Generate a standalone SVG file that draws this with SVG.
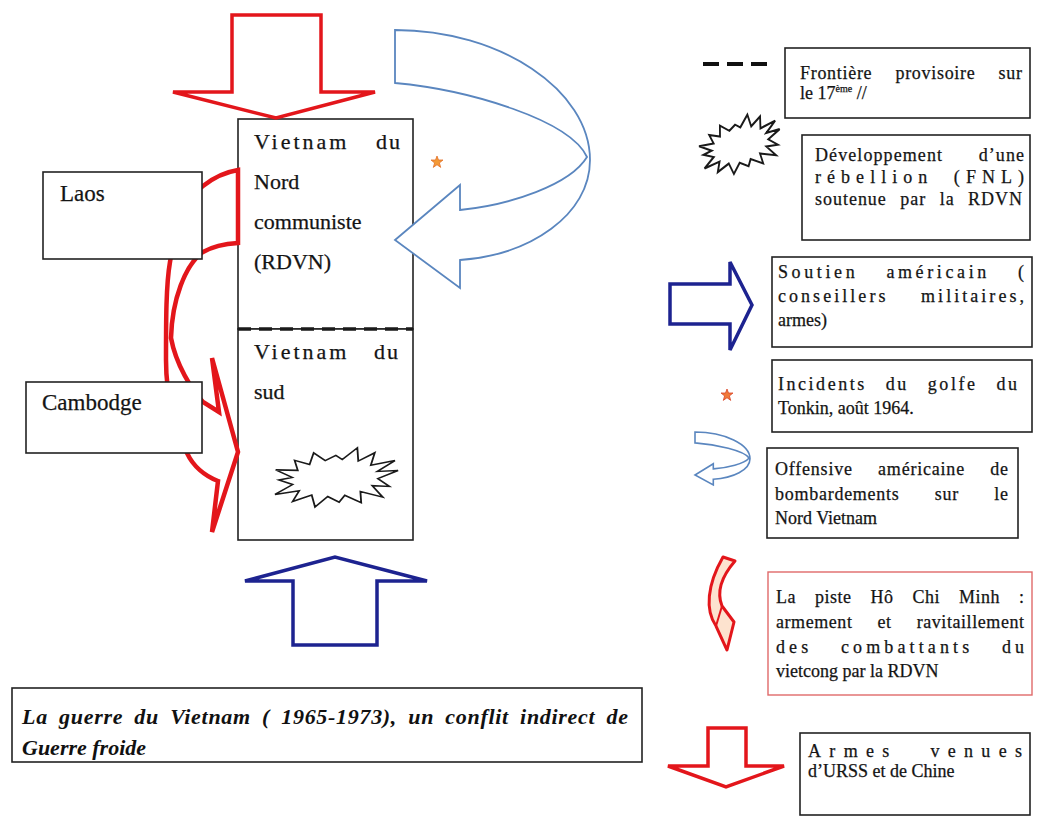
<svg xmlns="http://www.w3.org/2000/svg" width="1040" height="816" viewBox="0 0 1040 816">
<style>
.box{fill:#fff;stroke:#222;stroke-width:1.6}
.t{font-family:"Liberation Serif","Times New Roman",serif;font-size:18px;fill:#141414;stroke:#141414;stroke-width:0.25}
.tb{font-family:"Liberation Serif","Times New Roman",serif;font-size:22px;fill:#141414;stroke:#141414;stroke-width:0.25}
.tc{font-family:"Liberation Serif","Times New Roman",serif;font-size:23px;fill:#141414;stroke:#141414;stroke-width:0.25}
.title{font-family:"Liberation Serif","Times New Roman",serif;font-size:22px;font-weight:bold;font-style:italic;fill:#111}
.red{fill:#fff;stroke:#e3161b;stroke-width:3.5;stroke-linejoin:miter}
.navy{fill:#fff;stroke:#1d2390;stroke-width:3.5;stroke-linejoin:miter}
.sky{fill:#fff;stroke:#5a86bf;stroke-width:1.8;stroke-linejoin:miter}
.boom{fill:#fff;stroke:#1a1a1a;stroke-width:1.8;stroke-linejoin:miter}
.star{fill:#f39a36;stroke:#e2702a;stroke-width:0.8}
</style>
<defs>
<polygon id="explosion" points="52,-3 35,3.5 44,12 30,10 38,22 20,15 20,26 7,17.6 2,24 -7,17.6 -18,27 -20,15 -36,20 -30,10 -50,12 -35,3.5 -46,-2 -35,-3.5 -48,-12 -30,-10 -32,-20 -20,-15 -16,-26 -7,-17.6 2,-22 7,-17.6 20,-28 20,-15 34,-22 30,-10 50,-13 35,-3.5"/>
<polygon id="starshape" points="0,-6 1.5,-2 6,-2 2.4,0.9 3.7,5.4 0,2.7 -3.7,5.4 -2.4,0.9 -6,-2 -1.5,-2"/>
</defs>

<g id="vietnam-nord">
<rect class="box" x="238" y="119" width="175" height="210"/>
<text class="tb" x="254" y="149" letter-spacing="3">Vietnam</text>
<text class="tb" x="402" y="149" text-anchor="end" letter-spacing="2">du</text>
<text class="tb" x="254" y="189">Nord</text>
<text class="tb" x="254" y="229">communiste</text>
<text class="tb" x="254" y="269">(RDVN)</text>
</g>

<g id="vietnam-sud">
<rect class="box" x="238" y="329" width="175" height="211"/>
<text class="tb" x="254" y="359" letter-spacing="3">Vietnam</text>
<text class="tb" x="400" y="359" text-anchor="end" letter-spacing="2">du</text>
<text class="tb" x="254" y="399">sud</text>
<use href="#explosion" class="boom" transform="translate(335,478) rotate(-4) scale(1.22,1.02)" style="stroke-width:1.5"/>
</g>

<g id="connectors">
<line x1="238" y1="329" x2="413" y2="329" stroke="#1a1a1a" stroke-width="3.5" stroke-dasharray="13 8"/>
<path id="arrow-urss" class="red" d="M232,15 L321,15 L321,92 L375,92 L276,118 L173,92 L232,92 Z"/>
<path id="arrow-bombardements" class="sky" d="M395,30 C500,30 590,90 590,160 C590,215 530,255 460,260 L460,288 L395,240 L460,185 L460,210 C510,205 570,185 587,157 C570,120 470,90 395,83 Z"/>
<path id="piste-ho-chi-minh" class="red" style="stroke-width:4.5" d="M238,170 L238,243 C222,244 210,248 203,252 C185,265 172,300 171,338 C176,365 192,390 203,402 L219,412 L212,358 L238,452 L212,532 L218,481 C205,476 193,466 187,453 C176,428 166,400 166,360 C166,320 166,285 170,262 C176,225 188,195 203,186 C213,178 226,172 238,170 Z"/>
<path id="arrow-soutien" class="navy" d="M293,645 L377,645 L377,581 L427,581 L335,557 L245,581 L293,581 Z"/>
<use href="#starshape" class="star" transform="translate(437,162)"/>
</g>

<g id="laos">
<rect class="box" x="43" y="172" width="159" height="87"/>
<text class="tc" x="60" y="201">Laos</text>
</g>

<g id="cambodge">
<rect class="box" x="26" y="382" width="176" height="71"/>
<text class="tc" x="42" y="410">Cambodge</text>
</g>

<g id="titre">
<rect class="box" x="12" y="688" width="630" height="74"/>
<text class="title" x="22" y="724" word-spacing="5" textLength="606" lengthAdjust="spacing">La guerre du Vietnam ( 1965-1973), un conflit indirect de</text>
<text class="title" x="22" y="755">Guerre froide</text>
</g>

<g id="legende-frontiere">
<line x1="703" y1="64" x2="767" y2="64" stroke="#111" stroke-width="4" stroke-dasharray="16 8"/>
<rect class="box" x="785" y="48" width="245" height="70"/>
<text class="t" x="800" y="79" word-spacing="18" textLength="222" lengthAdjust="spacing">Frontière provisoire sur</text>
<text class="t" x="800" y="99">le 17<tspan dy="-7" font-size="10">ème</tspan><tspan dy="7"> //</tspan></text>
</g>

<g id="legende-rebellion">
<use href="#explosion" class="boom" transform="translate(740,145) rotate(-18) scale(0.82,0.95)" style="stroke-width:2.2"/>
<rect class="box" x="802" y="135" width="228" height="105"/>
<text class="t" x="815" y="161" word-spacing="30" textLength="209" lengthAdjust="spacing">Développement d’une</text>
<text class="t" x="815" y="183" word-spacing="10" textLength="209" lengthAdjust="spacing">rébellion (FNL)</text>
<text class="t" x="815" y="205" word-spacing="8" textLength="207" lengthAdjust="spacing">soutenue par la RDVN</text>
</g>

<g id="legende-soutien">
<path class="navy" d="M670,284 L730,284 L730,262 L752,305 L730,350 L730,324 L670,324 Z"/>
<rect class="box" x="772" y="257" width="260" height="90"/>
<text class="t" x="778" y="278" word-spacing="20" textLength="246" lengthAdjust="spacing">Soutien américain (</text>
<text class="t" x="778" y="302" word-spacing="25" textLength="246" lengthAdjust="spacing">conseillers militaires,</text>
<text class="t" x="778" y="326">armes)</text>
</g>

<g id="legende-tonkin">
<use href="#starshape" class="star" transform="translate(727,395)" style="fill:#f07a3a;stroke:#d9452a"/>
<rect class="box" x="772" y="360" width="260" height="72"/>
<text class="t" x="778" y="390" word-spacing="12" textLength="239" lengthAdjust="spacing">Incidents du golfe du</text>
<text class="t" x="778" y="414">Tonkin, août 1964.</text>
</g>

<g id="legende-bombardements">
<path class="sky" style="stroke-width:1.6" d="M695,432 C724.6,432 750,444.3 750,458.7 C750,469.9 733.1,478.1 713.3,479.2 L713.3,484.9 L695,475 L713.3,463.8 L713.3,468.9 C727.4,467.9 744.4,463.8 749.1,458 C744.4,450.5 716.2,444.3 695,442.9 Z"/>
<rect class="box" x="767" y="448" width="251" height="90"/>
<text class="t" x="775" y="475" word-spacing="20" textLength="233" lengthAdjust="spacing">Offensive américaine de</text>
<text class="t" x="775" y="500" word-spacing="30" textLength="233" lengthAdjust="spacing">bombardements sur le</text>
<text class="t" x="775" y="524">Nord Vietnam</text>
</g>

<g id="legende-piste">
<path d="M723,557 L735,561 C722,576 716,591 722,606 L734,622 L727,650 L716,626 C705,610 707,585 723,557 Z" fill="#fde3cf" stroke="#e3161b" stroke-width="3" stroke-linejoin="round"/>
<path d="M722,606 L716,626" stroke="#e3161b" stroke-width="2" fill="none"/>
<rect x="768" y="572" width="264" height="123" fill="#fff" stroke="#e06a6a" stroke-width="1.4"/>
<text class="t" x="776" y="603" word-spacing="14" textLength="248" lengthAdjust="spacing">La piste Hô Chi Minh :</text>
<text class="t" x="776" y="628" word-spacing="20" textLength="248" lengthAdjust="spacing">armement et ravitaillement</text>
<text class="t" x="776" y="653" word-spacing="20" textLength="248" lengthAdjust="spacing">des combattants du</text>
<text class="t" x="776" y="677">vietcong par la RDVN</text>
</g>

<g id="legende-armes">
<path class="red" d="M708,728 L746,728 L746,766 L784,766 L726,787 L668,766 L708,766 Z"/>
<rect class="box" x="800" y="733" width="230" height="82"/>
<text class="t" x="808" y="757" word-spacing="20" textLength="214" lengthAdjust="spacing">Armes venues</text>
<text class="t" x="808" y="777">d’URSS et de Chine</text>
</g>
</svg>
